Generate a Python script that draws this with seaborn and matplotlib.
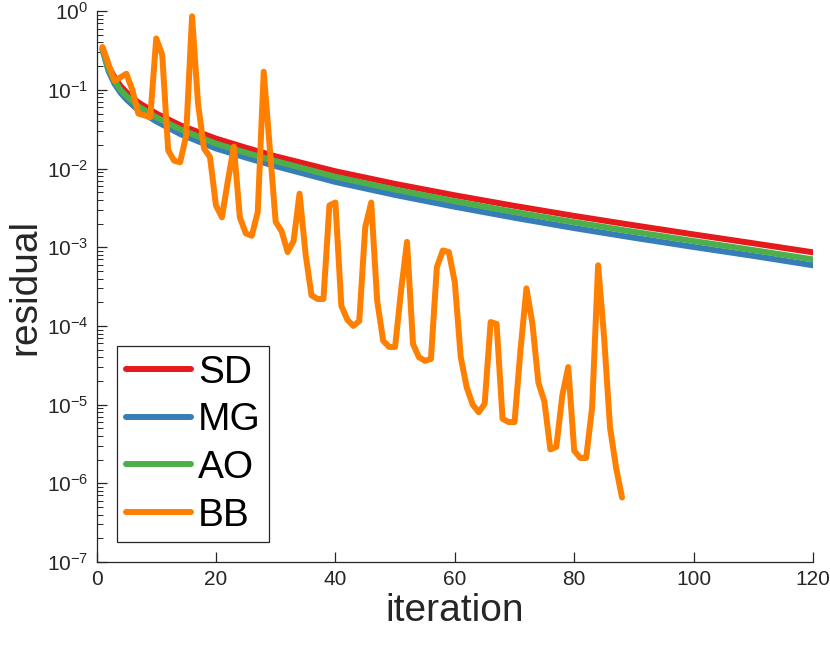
import matplotlib
matplotlib.use('Agg')
import matplotlib.pyplot as plt
import seaborn as sns
from matplotlib.ticker import LogLocator, NullFormatter

# smooth methods, read at sample iterations
it_smooth = [1, 2, 3, 4, 5, 7, 10, 14, 20, 25, 30, 40, 50, 60, 70, 80, 90, 100, 110, 120]
sd = [0.339, 0.1995, 0.1445, 0.1122, 0.0933, 0.0692, 0.0501, 0.0355, 0.0240, 0.0184, 0.01429,
      0.00923, 0.00638, 0.00457, 0.00335, 0.00250, 0.00190, 0.001455, 0.001122, 0.000861]
mg = [0.324, 0.174, 0.120, 0.0923, 0.0759, 0.0550, 0.0398, 0.0275, 0.0180, 0.0138, 0.01072,
      0.00676, 0.00462, 0.00327, 0.00237, 0.00175, 0.00132, 0.001007, 0.000776, 0.000589]
ao = [0.331, 0.186, 0.132, 0.100, 0.0832, 0.0617, 0.0447, 0.0316, 0.0207, 0.0159, 0.01245,
      0.00785, 0.00540, 0.00385, 0.00280, 0.00208, 0.00157, 0.001197, 0.000919, 0.000700]

# Barzilai-Borwein, read at the visible vertices
it_bb = [1, 3, 5, 6, 7, 9, 10, 11, 12, 13, 14, 15, 16, 17, 18, 19, 20, 21, 22, 23, 24, 25, 26,
         27, 28, 30, 31, 32, 33, 34, 35, 36, 37, 38, 39, 40, 41, 42, 43, 44, 45, 46, 47, 48, 49,
         50, 51, 52, 53, 54, 55, 56, 57, 58, 59, 60, 61, 62, 63, 64, 65, 66, 67, 68, 69, 70, 71,
         72, 73, 74, 75, 76, 77, 78, 79, 80, 81, 82, 83, 84, 85, 86, 87, 88]
bb = [0.35, 0.13, 0.16, 0.1, 0.05, 0.045, 0.45, 0.28, 0.017, 0.0126, 0.012, 0.026, 0.86, 0.067,
      0.018, 0.014, 0.0034, 0.0024, 0.007, 0.019, 0.0024, 0.0015, 0.0014, 0.0028, 0.17, 0.0021,
      0.0016, 0.00087, 0.0012, 0.0048, 0.00083, 0.000245, 0.00022, 0.00022, 0.0034, 0.0037,
      0.00018, 0.00012, 0.0001, 0.000115, 0.0018, 0.0037, 0.00021, 6.5e-5, 5.4e-5, 5.4e-5,
      0.00028, 0.00117, 5.9e-5, 4.0e-5, 3.6e-5, 3.8e-5, 0.00056, 0.00091, 0.00087, 0.00036,
      4.0e-5, 1.65e-5, 1.0e-5, 8.0e-6, 1.02e-5, 0.000112, 0.000106, 6.6e-6, 6.0e-6, 6.0e-6,
      4.9e-5, 0.0003, 0.000107, 1.9e-5, 1.1e-5, 2.7e-6, 2.9e-6, 1.3e-5, 3.0e-5, 2.6e-6, 2.1e-6,
      2.1e-6, 9.3e-6, 0.00059, 7.2e-5, 5.1e-6, 1.6e-6, 6.6e-7]

yticks = [1e-7, 1e-6, 1e-5, 1e-4, 1e-3, 1e-2, 1e-1, 1e0]
xticks = [0, 20, 40, 60, 80, 100, 120]

sns.set_theme(style='ticks')
plt.rcParams['font.family'] = ['Liberation Sans', 'DejaVu Sans']
plt.rcParams['mathtext.default'] = 'regular'

fig = plt.figure(figsize=(8.3, 6.45), dpi=100)
ax = fig.add_axes([0.1163, 0.1287, 0.8633, 0.854])

lw = 4.3
sns.lineplot(x=it_smooth, y=sd, color='#E41A1C', lw=lw, label='SD', ax=ax, sort=False, estimator=None)
sns.lineplot(x=it_smooth, y=mg, color='#377EB8', lw=lw, label='MG', ax=ax, sort=False, estimator=None)
sns.lineplot(x=it_smooth, y=ao, color='#4DAF4A', lw=lw, label='AO', ax=ax, sort=False, estimator=None)
sns.lineplot(x=it_bb, y=bb, color='#FF7F00', lw=lw, label='BB', ax=ax, sort=False, estimator=None)

ax.set_yscale('log')
ax.set_xlim(0, 120)
ax.set_ylim(1e-7, 1e0)
ax.set_xticks(xticks)
ax.set_yticks(yticks)
ax.yaxis.set_minor_locator(LogLocator(base=10, subs=range(2, 10), numticks=100))
ax.yaxis.set_minor_formatter(NullFormatter())

sns.despine(ax=ax)
for s in ['left', 'bottom']:
    ax.spines[s].set_color('#262626')
    ax.spines[s].set_linewidth(0.9)
ax.tick_params(which='both', direction='in', colors='#262626', labelsize=15, pad=6)
ax.tick_params(which='major', length=7, width=0.9)
ax.tick_params(which='minor', length=4, width=0.7)

ax.set_xlabel('iteration', fontsize=28, color='#262626', labelpad=3)
ax.set_ylabel('residual', fontsize=28, color='#262626', labelpad=2)

leg = ax.legend(loc='lower left', bbox_to_anchor=(0.029, 0.036), fontsize=28, frameon=True,
                fancybox=False, framealpha=1, edgecolor='#262626', handlelength=1.67,
                handletextpad=0.18, borderpad=0.22, labelspacing=0.3, borderaxespad=0)
leg.get_frame().set_linewidth(0.9)
for t in leg.get_texts():
    t.set_color('black')

fig.savefig('out.png', dpi=100)
